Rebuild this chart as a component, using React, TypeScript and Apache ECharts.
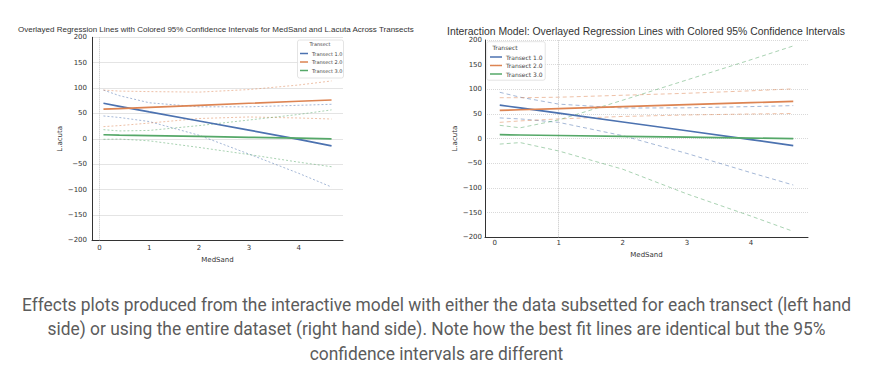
import React, { useEffect, useRef } from "react";
import * as echarts from "echarts";

// ---- Data ----
const xs = [0.08, 0.4, 1, 2, 3, 4, 4.66];
const transects = ["Transect 1.0", "Transect 2.0", "Transect 3.0"];

// Left chart (data subsetted per transect)
const leftBlueFit = [70, 64, 53, 35, 17, -1, -14];
const leftOrangeFit = [58.3, 59.6, 62, 66, 70, 74, 76.5];
const leftGreenFit = [8, 7.4, 6.4, 4.6, 2.9, 1.2, 0];
const leftBlueUpper = [96, 85, 71, 63, 63, 66, 68];
const leftBlueLower = [45, 42, 34, 7, -30, -68, -95];
const leftOrangeUpper = [96, 94, 93, 92, 97, 106, 114];
const leftOrangeLower = [24, 26, 31, 40, 43, 41, 39];
const leftGreenUpper = [18, 15.5, 16.5, 26, 37, 48, 57];
const leftGreenLower = [-1, -0.5, -4, -17, -31, -46, -55];

// Right chart (interaction model, full dataset)
const rightBlueFit = [68, 62.3, 51.6, 33.8, 16, -1.8, -14];
const rightOrangeFit = [57.3, 58.6, 61, 65, 69, 73, 75.5];
const rightGreenFit = [8, 7.4, 6.4, 4.6, 2.9, 1.2, 0];
const rightBlueUpper = [94, 84, 70, 62, 62.5, 65, 67];
const rightBlueLower = [42, 40, 33, 6, -30, -69, -94];
const rightOrangeUpper = [83, 83, 84, 88, 92, 97, 101];
const rightOrangeLower = [33, 36, 40, 45, 48, 50, 51];
const rightGreenUpper = [27, 22, 38, 78, 119, 160, 188];
const rightGreenLower = [-11, -8, -25, -62, -112, -157, -188];

const leftTitle =
  "Overlayed Regression Lines with Colored 95% Confidence Intervals for MedSand and L.acuta Across Transects";
const rightTitle =
  "Interaction Model: Overlayed Regression Lines with Colored 95% Confidence Intervals";
const captionLines = [
  "Effects plots produced from the interactive model with either the data subsetted for each transect (left hand",
  "side) or using the entire dataset (right hand side). Note how the best fit lines are identical but the 95%",
  "confidence intervals are different",
];

const colors = ["#4c72b0", "#dd8452", "#55a868"];

const pairs = (ys: number[]) => xs.map((x, i) => [x, ys[i]]);
const minus = (v: number) => String(v).replace("-", "\u2212");

export default function App() {
  const ref = useRef<HTMLDivElement>(null);
  useEffect(() => {
    document.body.style.margin = "0";
    const chart = echarts.init(ref.current!, null, { renderer: "svg" });

    const fits = (idx: number, arrs: number[][], vline: number) =>
      arrs.map((ys, i) => ({
        type: "line",
        name: transects[i],
        xAxisIndex: idx,
        yAxisIndex: idx,
        data: pairs(ys),
        showSymbol: false,
        symbol: "none",
        z: 5,
        lineStyle: { color: colors[i], width: 1.7 },
        itemStyle: { color: colors[i] },
        markLine:
          i === 0
            ? {
                silent: true,
                symbol: "none",
                label: { show: false },
                lineStyle: { type: "dotted", color: "#c4c4c4", width: 1 },
                data: [{ xAxis: vline }],
              }
            : undefined,
      }));

    const cis = (idx: number, arrs: number[][], dash: any) =>
      arrs.map((ys, i) => ({
        type: "line",
        name: "ci" + idx + "_" + i,
        xAxisIndex: idx,
        yAxisIndex: idx,
        data: pairs(ys),
        showSymbol: false,
        symbol: "none",
        z: 3,
        lineStyle: {
          color: colors[Math.floor(i / 2)],
          width: 1,
          type: dash,
          opacity: 0.5,
        },
      }));

    const xAxisBase = (idx: number, margin: number) => ({
      type: "value",
      gridIndex: idx,
      min: -0.15,
      max: 4.89,
      splitNumber: 5,
      name: "MedSand",
      nameLocation: "middle",
      nameGap: 14,
      nameTextStyle: { fontSize: 7, color: "#333", fontFamily: "DejaVu Sans" },
      axisLine: { show: true, onZero: false, lineStyle: { color: "#333", width: 1 } },
      axisTick: { show: false },
      splitLine: { show: false },
      axisLabel: {
        fontSize: 7,
        color: "#333",
        margin,
        fontFamily: "DejaVu Sans",
        showMinLabel: false,
        showMaxLabel: false,
      },
    });

    const yAxisBase = (idx: number, gap: number, margin: number, dotted: boolean) => ({
      type: "value",
      gridIndex: idx,
      min: -200,
      max: 200,
      interval: 50,
      name: "L.acuta",
      nameLocation: "middle",
      nameRotate: 90,
      nameGap: gap,
      nameTextStyle: { fontSize: 7, color: "#333", fontFamily: "DejaVu Sans" },
      axisLine: { show: true, onZero: false, lineStyle: { color: "#333", width: 1 } },
      axisTick: { show: false },
      splitLine: {
        show: true,
        lineStyle: { color: dotted ? "#d9d9d9" : "#e4e4e4", width: 1, type: dotted ? "dotted" : "solid" },
      },
      axisLabel: {
        fontSize: 7,
        color: "#333",
        margin,
        fontFamily: "DejaVu Sans",
        formatter: (v: number) => minus(v),
      },
    });

    const legendBase = (left: number, top: number, fs: number, iw: number) => ({
      data: transects,
      left,
      top,
      orient: "vertical",
      icon: "rect",
      itemWidth: iw,
      itemHeight: 1.5,
      itemGap: 1.5,
      padding: 0,
      selectedMode: false,
      z: 6,
      textStyle: { fontSize: fs, color: "#444", lineHeight: 7, fontFamily: "DejaVu Sans", padding: [0, 0, 0, -1] },
    });

    const option: any = {
      animation: false,
      backgroundColor: "#ffffff",
      title: [
        {
          text: leftTitle,
          left: 18,
          top: 25,
          padding: 0,
          textStyle: { fontSize: 8, fontWeight: "normal", color: "#333", fontFamily: "Liberation Sans" },
        },
        {
          text: rightTitle,
          left: 447,
          top: 26,
          padding: 0,
          textStyle: { fontSize: 10.4, fontWeight: "normal", color: "#333", fontFamily: "Liberation Sans" },
        },
      ],
      grid: [
        { left: 92, top: 37.3, width: 251, height: 203 },
        { left: 485, top: 40, width: 323, height: 197.3 },
      ],
      xAxis: [xAxisBase(0, 4), xAxisBase(1, 2)],
      yAxis: [yAxisBase(0, 22, 5, false), yAxisBase(1, 27, 3, true)],
      legend: [legendBase(300, 50, 5, 8), legendBase(490, 53.5, 6, 12)],
      graphic: [
        {
          type: "rect",
          z: 4,
          shape: { x: 297.5, y: 40, width: 46, height: 38, r: 2 },
          style: { fill: "rgba(255,255,255,0.85)", stroke: "#dddddd", lineWidth: 0.8 },
        },
        {
          type: "text",
          z: 6,
          x: 320,
          y: 44,
          style: { text: "Transect", fontSize: 5, fill: "#444", align: "center", verticalAlign: "middle", fontFamily: "DejaVu Sans" },
        },
        {
          type: "rect",
          z: 4,
          shape: { x: 486.7, y: 41.7, width: 58.5, height: 38.5, r: 2 },
          style: { fill: "rgba(255,255,255,0.85)", stroke: "#dddddd", lineWidth: 0.8 },
        },
        {
          type: "text",
          z: 6,
          x: 505,
          y: 47.8,
          style: { text: "Transect", fontSize: 6, fill: "#444", align: "center", verticalAlign: "middle", fontFamily: "DejaVu Sans" },
        },
        ...captionLines.map((t, i) => ({
          type: "text",
          x: 436.5,
          y: 304 + i * 24.5,
          scaleX: 0.915,
          style: {
            text: t,
            fontSize: 19,
            fill: "#5c5c5c",
            align: "center",
            verticalAlign: "middle",
            fontFamily: "Roboto",
          },
        })),
      ],
      series: [
        ...cis(0, [leftBlueUpper, leftBlueLower, leftOrangeUpper, leftOrangeLower, leftGreenUpper, leftGreenLower], [2, 2]),
        ...fits(0, [leftBlueFit, leftOrangeFit, leftGreenFit], 0),
        ...cis(1, [rightBlueUpper, rightBlueLower, rightOrangeUpper, rightOrangeLower, rightGreenUpper, rightGreenLower], [4, 3]),
        ...fits(1, [rightBlueFit, rightOrangeFit, rightGreenFit], 1),
      ],
    };
    chart.setOption(option);
    return () => chart.dispose();
  }, []);
  return <div ref={ref} style={{ width: 873, height: 368 }} />;
}
